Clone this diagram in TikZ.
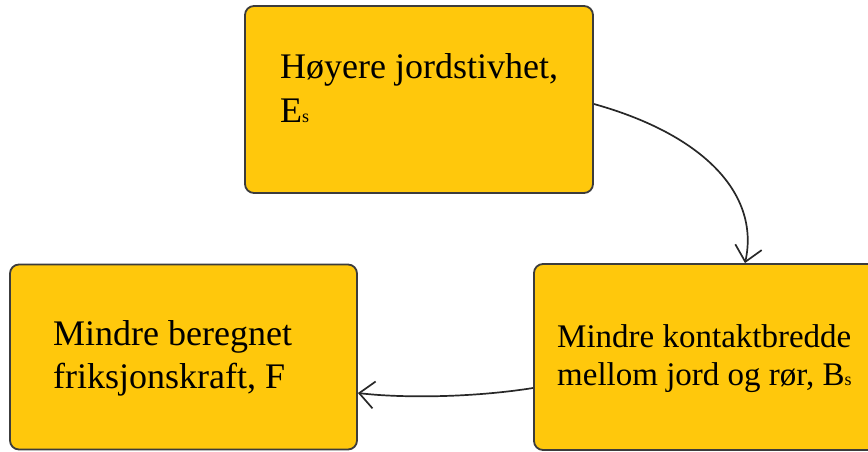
\documentclass[tikz,border=0pt]{standalone}
\usepackage{fontspec}
\setmainfont{Liberation Serif}
\usetikzlibrary{arrows.meta}
\definecolor{boxfill}{RGB}{255,200,12}
\definecolor{boxline}{RGB}{60,60,60}
\definecolor{linkline}{RGB}{40,40,40}
\newcommand\smallidx[1]{{\fontsize{18}{18}\selectfont #1}}
\tikzset{
  stepbox/.style={draw=boxline, fill=boxfill, line width=1.8pt, rounded corners=9pt,
    minimum width=#1, inner sep=0pt},
  boxtext/.style={anchor=base west, align=left, inner sep=0pt, text=black},
  link/.style={draw=linkline, line width=1.7pt,
    -{Straight Barb[length=15pt,width=27pt,line width=1.7pt]}},
}
\begin{document}
\begin{tikzpicture}[x=1pt,y=-1pt]
  \useasboundingbox (0,0) rectangle (868,452);
  \clip (0,0) rectangle (868,452);

  % boxes
  \node[stepbox=348pt, minimum height=187pt] (top)   at (419,99.5)  {};
  \node[stepbox=347pt, minimum height=185pt] (left)  at (183.5,357) {};
  \node[stepbox=348pt, minimum height=186pt] (right) at (708,357)   {};

  % labels (anchored at the baseline of their last line)
  \node[boxtext, font=\fontsize{36}{44}\selectfont] (ttop) at (280,122)
    {Høyere jordstivhet,\\E\smallidx{s}};
  \node[boxtext, font=\fontsize{36}{43}\selectfont] (tleft) at (53,388)
    {Mindre beregnet\\friksjonskraft, F};
  \node[boxtext, font=\fontsize{33}{38}\selectfont] (tright) at (557,385)
    {Mindre kontaktbredde\\mellom jord og rør, B\smallidx{s}};

  % connectors
  \draw[link] ([yshift=-4.5pt]top.east)
    .. controls (705,135) and (760,195) .. ([xshift=37pt]right.north);
  \draw[link] ([yshift=-31pt]right.west)
    .. controls (470,398) and (400,398) .. ([yshift=-36pt]left.east);
\end{tikzpicture}
\end{document}
